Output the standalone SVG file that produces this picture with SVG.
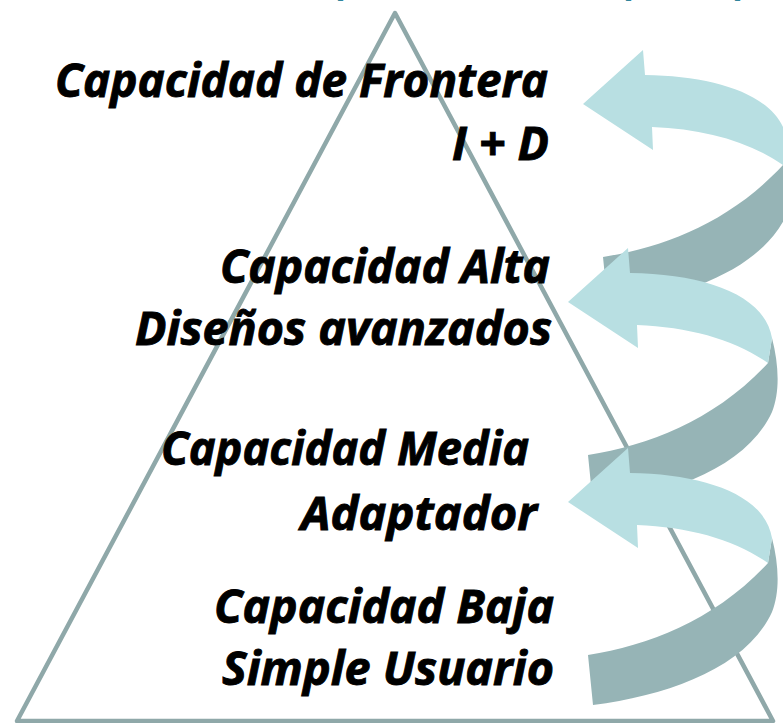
<svg xmlns="http://www.w3.org/2000/svg" xmlns:xlink="http://www.w3.org/1999/xlink" width="783" height="723" viewBox="0 0 783 723">
  <style>
    .lbl { font-family: "Open Sans", "Liberation Sans", sans-serif; font-weight: 700; font-style: italic; font-size: 47px; fill: #000000; stroke: #000000; stroke-width: 0.9; }
    .top { font-family: "Open Sans", "Liberation Sans", sans-serif; font-weight: 700; font-style: italic; font-size: 46px; fill: #31859c; }
    .tri { fill: none; stroke: #8fa8a9; stroke-width: 4.5; stroke-linejoin: round; }
    .light { fill: #b8dfe2; }
    .dark { fill: #96b4b6; }
  </style>
  <defs>
    <path id="lightShape" d="M568,502 L628,448 L630,473 C705,474 765,495 772,538 L768,563 C735,540 690,527 637,525 L638,548 Z"/>
    <path id="darkShape" d="M772,538 C779,565 780,592 772,612 C747,667 670,695 593,705 L588,655 C650,645 715,620 768,563 Z"/>
  </defs>

  <g id="top-fragments">
    <text class="top" x="340" y="-5">,</text>
    <text class="top" x="628" y="-5">,</text>
    <text class="top" x="737" y="-5">,</text>
  </g>

  <g id="pyramid">
    <path class="tri" d="M395,13 L773,721 L17,721 Z"/>
  </g>

  <g id="level-frontera">
    <text class="lbl" x="55" y="97" textLength="493" lengthAdjust="spacingAndGlyphs">Capacidad de Frontera</text>
    <text class="lbl" x="452" y="160" textLength="97" lengthAdjust="spacingAndGlyphs">I + D</text>
  </g>
  <g id="level-alta">
    <text class="lbl" x="220" y="283" textLength="330" lengthAdjust="spacingAndGlyphs">Capacidad Alta</text>
    <text class="lbl" x="135" y="345" textLength="417" lengthAdjust="spacingAndGlyphs">Diseños avanzados</text>
  </g>
  <g id="level-media">
    <text class="lbl" x="161" y="465" textLength="368" lengthAdjust="spacingAndGlyphs">Capacidad Media</text>
    <text class="lbl" x="301" y="530" textLength="236" lengthAdjust="spacingAndGlyphs">Adaptador</text>
  </g>
  <g id="level-baja">
    <text class="lbl" x="214" y="623" textLength="340" lengthAdjust="spacingAndGlyphs">Capacidad Baja</text>
    <text class="lbl" x="222" y="685" textLength="332" lengthAdjust="spacingAndGlyphs">Simple Usuario</text>
  </g>

  <g id="connectors">
    <g id="arrow-1" transform="translate(15,-398)">
      <use xlink:href="#darkShape" href="#darkShape" class="dark"/>
      <use xlink:href="#lightShape" href="#lightShape" class="light"/>
    </g>
    <g id="arrow-2" transform="translate(0,-200)">
      <use xlink:href="#darkShape" href="#darkShape" class="dark"/>
      <use xlink:href="#lightShape" href="#lightShape" class="light"/>
    </g>
    <g id="arrow-3">
      <use xlink:href="#darkShape" href="#darkShape" class="dark"/>
      <use xlink:href="#lightShape" href="#lightShape" class="light"/>
    </g>
  </g>
</svg>
